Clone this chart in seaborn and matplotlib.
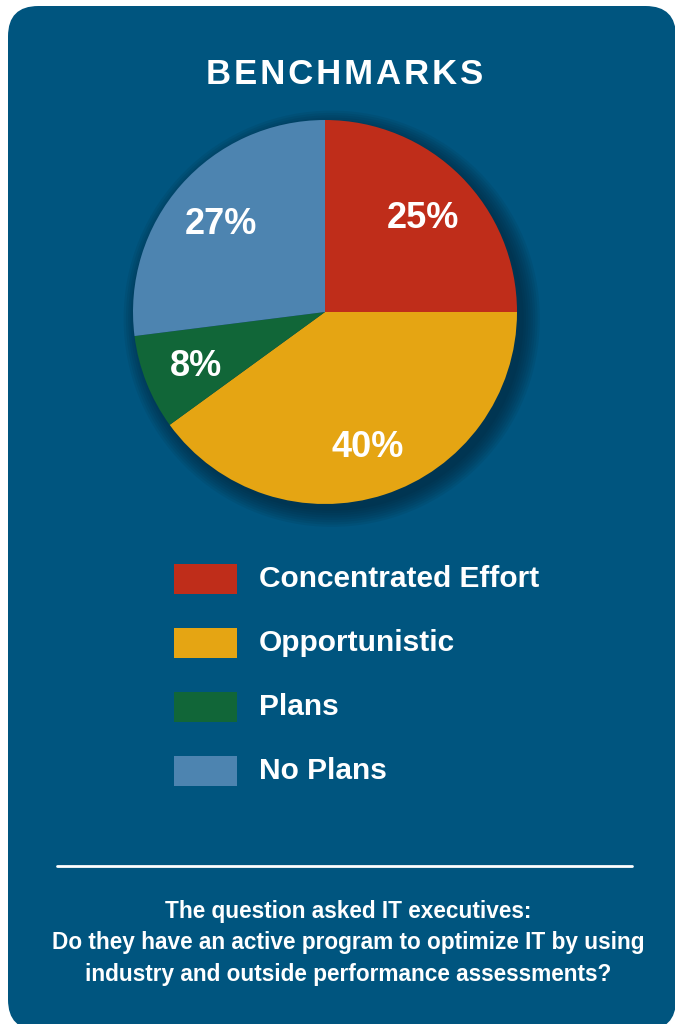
import matplotlib
matplotlib.use("Agg")
import matplotlib.pyplot as plt
import seaborn as sns
from matplotlib.patches import FancyBboxPatch, Rectangle, Circle

sns.set_style("white")
plt.rcParams['font.family'] = ['Liberation Sans', 'DejaVu Sans']

categories = ["Concentrated Effort", "Opportunistic", "Plans", "No Plans"]
values = [25, 40, 8, 27]
colors = ["#BF2D1A", "#E5A513", "#116638", "#4D84B0"]
title = "BENCHMARKS"
note = ("The question asked IT executives:\n"
        "Do they have an active program to optimize IT by using\n"
        "industry and outside performance assessments?")

BG = "#00557F"
W, H = 675, 1024
fig = plt.figure(figsize=(W / 100, H / 100), dpi=100)
fig.patch.set_facecolor("white")

def fx(x):
    return x / W

def fy(y):
    return 1 - y / H

# card background
card = FancyBboxPatch((fx(8), fy(1030)), fx(676) - fx(8), fy(6) - fy(1030),
                      boxstyle="round,pad=0,rounding_size=0.045",
                      transform=fig.transFigure, facecolor=BG, edgecolor="none",
                      mutation_aspect=W / H, zorder=-10)
fig.patches.append(card)

# title
fig.text(fx(345), fy(75), "\u200a".join(title), color="white", fontsize=25,
         fontweight="bold", ha="center", va="center")

# pie
cx, cy, r = 325, 312, 192
ax = fig.add_axes([0, 0, 1, 1], zorder=5)
ax.set_facecolor("none")
# soft drop shadow behind the pie
for k in range(8):
    ax.add_patch(Circle((0.035, -0.035), 1.0 + 0.012 * (7 - k), facecolor="#001e30",
                        alpha=0.09, edgecolor="none", zorder=0, clip_on=False))
wedges, texts, autotexts = ax.pie(
    values, colors=colors, startangle=90, counterclock=False,
    autopct=lambda p: f"{p:.0f}%", pctdistance=0.72, radius=1,
    wedgeprops=dict(linewidth=0, zorder=2),
    textprops=dict(color="white", fontsize=26, fontweight="bold"))
for t in autotexts:
    t.set_zorder(10)
    t.set_va("center_baseline")
ax.set_xlim(-1.05, 1.05)
ax.set_ylim(-1.05, 1.05)
ax.set_position([fx(cx - r * 1.05), fy(cy + r * 1.05), fx(2 * r * 1.05), fy(cy - r * 1.05) - fy(cy + r * 1.05)])
ax.axis("off")

# legend
row_y = [579, 643, 707, 771]
for lab, col, yy in zip(categories, colors, row_y):
    fig.patches.append(Rectangle((fx(174), fy(yy + 15)), fx(237) - fx(174), fy(yy - 15) - fy(yy + 15),
                                 transform=fig.transFigure, facecolor=col, edgecolor="none"))
    fig.text(fx(259), fy(yy), lab, color="white", fontsize=21.5, fontweight="bold",
             ha="left", va="center")

# separator line
fig.add_artist(plt.Line2D([fx(57), fx(632)], [fy(866), fy(866)], transform=fig.transFigure,
                          color="white", linewidth=2))

fig.text(fx(348), fy(943), note, color="white", fontsize=16.3, fontweight="bold",
         ha="center", va="center", linespacing=1.45)

fig.savefig("out.png", dpi=100, facecolor=fig.get_facecolor())
